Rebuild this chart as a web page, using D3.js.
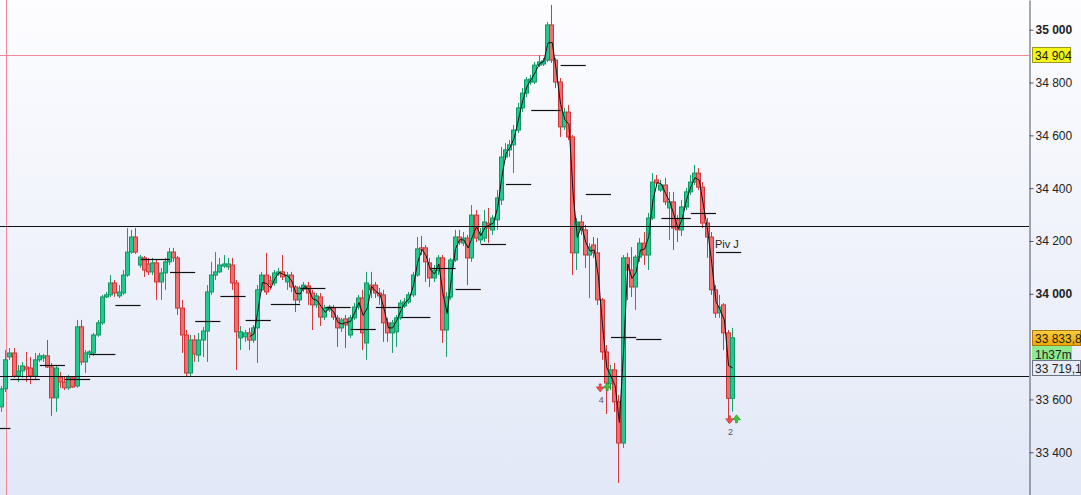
<!DOCTYPE html>
<html>
<head>
<meta charset="utf-8">
<script src="https://cdn.jsdelivr.net/npm/d3@7"></script>
<style>
html, body { margin: 0; padding: 0; background: #fff; }
svg { display: block; font-family: "Liberation Sans", Arial, sans-serif; }
</style>
</head>
<body>
<svg id="chart" width="1081" height="495"></svg>
<script>
// candles, oldest first (index = bar number)
var open = [
  33572,33640,33761,33776,33689,33708,33723,33719,33689,33750,
  33757,33765,33723,33606,33685,33666,33644,33682,33651,33875,
  33742,33772,33776,33844,33890,33988,33996,34041,33992,34003,
  34071,34158,34215,34109,34136,34113,34083,34117,34045,34079,
  34121,34158,34136,33946,33844,33700,33825,33768,33825,33859,
  34007,34071,34083,34105,34102,34109,34041,33833,33837,33852,
  33825,33871,34015,34071,34049,34041,34075,34083,34045,34071,
  34026,33977,34018,34030,34003,33958,33988,33912,33939,33946,
  33908,33871,33905,33844,33909,33950,33984,33814,34033,34033,
  34003,33996,33890,33852,33856,33909,33954,33969,33996,34071,
  34174,34174,34117,34060,34087,34136,33863,33988,34128,34215,
  34192,34211,34136,34298,34204,34211,34268,34242,34280,34355,
  34518,34545,34564,34620,34704,34760,34802,34802,34866,34870,
  34885,35018,34885,34802,34632,34688,34594,34155,34272,34242,
  34147,34185,34155,33977,33780,33659,33712,33591,33435,34136,
  34090,34026,34139,34192,34147,34287,34431,34393,34412,34325,
  34348,34280,34242,34329,34386,34423,34457,34404,34268,34215,
  34015,33928,33958,33852,33604.4
];
var high = [
  33651,33787,33795,33795,33731,33742,33780,33761,33776,33776,
  33772,33825,33738,33727,33704,33685,33693,33689,33901,33901,
  33787,33787,33852,33901,33996,34007,34071,34052,34033,34090,
  34249,34242,34249,34147,34143,34136,34136,34128,34098,34136,
  34174,34174,34143,33977,33863,33844,33844,33852,33875,34033,
  34121,34158,34136,34147,34136,34136,34052,33878,33863,33871,
  33882,34033,34083,34155,34068,34090,34098,34147,34083,34083,
  34033,34030,34045,34045,34015,34003,34003,33958,33958,33958,
  33920,33909,33920,33920,33965,33996,34015,34083,34083,34045,
  34022,34015,33909,33901,33920,33977,33984,34007,34083,34215,
  34219,34185,34136,34109,34147,34147,34007,34136,34242,34242,
  34234,34223,34336,34317,34249,34317,34325,34298,34393,34556,
  34571,34582,34639,34723,34779,34821,34829,34878,34904,34893,
  35029,35094,34893,34817,34704,34715,34601,34287,34298,34261,
  34192,34215,34211,33984,33806,33731,33738,33617,34147,34155,
  34177,34147,34211,34234,34306,34457,34450,34431,34439,34386,
  34386,34298,34355,34401,34450,34488,34476,34423,34287,34234,
  34033,33996,33965,33863,33871
];
var low = [
  33553,33628,33750,33682,33666,33682,33666,33658,33674,33742,
  33742,33719,33538,33553,33644,33636,33636,33644,33644,33731,
  33700,33757,33765,33837,33882,33984,33988,33988,33984,33996,
  34064,34151,34151,34098,34064,34071,34071,33977,33977,34015,
  34109,34121,33920,33776,33685,33689,33742,33742,33761,33742,
  33996,34052,34079,34098,34090,34015,33712,33787,33818,33787,
  33814,33738,34007,33996,34015,34030,34068,34052,34015,34007,
  33931,33965,34007,33958,33863,33946,33878,33901,33931,33901,
  33799,33856,33795,33833,33901,33939,33787,33750,33984,33984,
  33958,33818,33818,33776,33799,33901,33946,33962,33988,34064,
  34147,34045,34026,34045,34071,33814,33761,33977,34121,34185,
  34181,34033,34121,34196,34189,34196,34192,34223,34242,34336,
  34507,34518,34457,34609,34688,34745,34791,34794,34859,34863,
  34878,34874,34779,34594,34620,34582,34071,34090,34223,34098,
  33984,34136,33958,33750,33545,33636,33553,33284,33416,33977,
  33988,33939,34121,34109,34090,34280,34408,34386,34336,34204,
  34166,34196,34219,34317,34374,34412,34393,34249,34136,33996,
  33909,33909,33787,33511,33553
];
var close = [
  33640,33750,33776,33689,33708,33727,33715,33689,33750,33765,
  33765,33723,33606,33719,33666,33644,33685,33647,33875,33742,
  33776,33780,33844,33890,33988,33996,34041,34003,34007,34071,
  34158,34215,34158,34139,34090,34083,34117,34045,34079,34121,
  34158,34136,33946,33844,33700,33825,33772,33825,33859,34007,
  34071,34083,34109,34113,34113,34041,33856,33856,33852,33825,
  33871,34015,34071,34007,34037,34079,34083,34064,34071,34026,
  33977,34022,34033,34003,33958,33992,33912,33946,33950,33912,
  33871,33901,33882,33909,33950,33984,33852,34041,34015,34003,
  33992,33890,33852,33890,33909,33965,33969,33996,34071,34170,
  34166,34121,34060,34090,34136,33863,33988,34128,34215,34196,
  34211,34136,34298,34211,34230,34272,34249,34287,34363,34518,
  34545,34564,34620,34704,34760,34810,34813,34866,34878,34882,
  35018,34885,34802,34632,34688,34594,34155,34272,34242,34147,
  34177,34155,33977,33780,33662,33712,33591,33435,34136,34090,
  34026,34139,34192,34147,34287,34423,34420,34412,34348,34348,
  34249,34242,34329,34386,34423,34457,34404,34268,34215,34015,
  33927,33950,33852,33604.4,33833.8
];

// pivot levels, one per period (bar where the period starts / ends)
var pivotFrom  = [-5, 2, 9, 15, 21, 27, 33, 40, 46, 52, 58, 64, 71, 77, 83, 89, 95, 102, 108, 114, 120, 126, 133, 139, 145, 151, 157, 164, 170];
var pivotTo    = [2, 9, 15, 21, 27, 33, 40, 46, 52, 58, 64, 71, 77, 83, 89, 95, 102, 108, 114, 120, 126, 133, 139, 145, 151, 157, 164, 170, 176];
var pivotLevel = [33492, 33677, 33730, 33677, 33772, 33957, 34132, 34082, 33896, 33991, 33900, 33960, 34021, 33949, 33866,
                  33950, 33911, 34097, 34017, 34188, 34416, 34696, 34865, 34378, 33837, 33828, 34288, 34305, 34158];

var hLevels = [34257, 33689];          // black support / resistance lines
var crossPrice = 34904, crossBar = 1;  // red crosshair
var maStart = 59, maLen = 2;           // moving average on close

var signalBar = [142.9, 173.7];
var signalPrice = [33640, 33519];
var signalText = ["4", "2"];

var tickValues = [35000, 34800, 34600, 34400, 34200, 34000, 33600, 33400];
var boldTicks = [35000, 34000];
var timerText = "1h37m";

var width = 1081, height = 495, axisX = 1029;
var fr = d3.formatLocale({decimal: ",", thousands: " ", grouping: [3], currency: ["", ""]});
var f0 = fr.format(",.0f"), f1 = fr.format(",.1f");

var svg = d3.select("#chart");

var x = d3.scaleLinear().domain([0, close.length - 1]).range([2, 732.8]);
var y = d3.scaleLinear().domain([33238.2, 35112.5]).range([height, 0]);

var defs = svg.append("defs");
var bg = defs.append("linearGradient").attr("id", "bg").attr("x1", 0).attr("y1", 0).attr("x2", 0).attr("y2", 1);
bg.append("stop").attr("offset", "0%").attr("stop-color", "#fdfdff");
bg.append("stop").attr("offset", "100%").attr("stop-color", "#e2e8f7");
var og = defs.append("linearGradient").attr("id", "og").attr("x1", 0).attr("y1", 0).attr("x2", 0).attr("y2", 1);
og.append("stop").attr("offset", "0%").attr("stop-color", "#fbcd40");
og.append("stop").attr("offset", "100%").attr("stop-color", "#eea800");

svg.append("rect").attr("width", width).attr("height", height).attr("fill", "url(#bg)");

// crosshair
svg.append("line")
    .attr("x1", Math.round(x(crossBar)) + 0.5).attr("x2", Math.round(x(crossBar)) + 0.5)
    .attr("y1", 0).attr("y2", height)
    .attr("stroke", "#f0889a").attr("stroke-width", 1);
svg.append("line")
    .attr("x1", 0).attr("x2", axisX)
    .attr("y1", Math.round(y(crossPrice)) + 0.5).attr("y2", Math.round(y(crossPrice)) + 0.5)
    .attr("stroke", "#f0889a").attr("stroke-width", 1);

// candles
var bars = d3.range(close.length);
var g = svg.append("g").attr("class", "candles");
var candle = g.selectAll("g").data(bars).enter().append("g");

function up(i) { return close[i] >= open[i]; }

candle.append("line")
    .attr("x1", function(i) { return Math.round(x(i)) - 0.5; })
    .attr("x2", function(i) { return Math.round(x(i)) - 0.5; })
    .attr("y1", function(i) { return y(high[i]); })
    .attr("y2", function(i) { return y(low[i]); })
    .attr("stroke", function(i) { return up(i) ? "#1a9e6c" : "#d8383c"; })
    .attr("stroke-width", 1);

candle.append("rect")
    .attr("x", function(i) { return Math.round(x(i)) - 2.5; })
    .attr("width", 4)
    .attr("y", function(i) { return y(Math.max(open[i], close[i])); })
    .attr("height", function(i) { return Math.max(1, Math.abs(y(open[i]) - y(close[i]))); })
    .attr("fill", function(i) { return up(i) ? "#22c98e" : "#f26e6e"; })
    .attr("stroke", function(i) { return up(i) ? "#139564" : "#cf3538"; })
    .attr("stroke-width", 1);

// moving average
var ma = d3.range(maStart, close.length).map(function(i) {
  return [i, d3.mean(close.slice(i - maLen + 1, i + 1))];
});
svg.append("path")
    .datum(ma)
    .attr("fill", "none").attr("stroke", "#111").attr("stroke-width", 1)
    .attr("d", d3.line().x(function(d) { return x(d[0]); }).y(function(d) { return y(d[1]); }));

// horizontal levels
svg.selectAll("line.level").data(hLevels).enter().append("line")
    .attr("class", "level")
    .attr("x1", 0).attr("x2", axisX)
    .attr("y1", function(d) { return Math.round(y(d)) + 0.5; })
    .attr("y2", function(d) { return Math.round(y(d)) + 0.5; })
    .attr("stroke", "#111").attr("stroke-width", 1);

// pivot segments
svg.selectAll("line.pivot").data(pivotLevel).enter().append("line")
    .attr("class", "pivot")
    .attr("x1", function(d, k) { return x(pivotFrom[k]); })
    .attr("x2", function(d, k) { return x(pivotTo[k]); })
    .attr("y1", function(d) { return Math.round(y(d)) + 0.5; })
    .attr("y2", function(d) { return Math.round(y(d)) + 0.5; })
    .attr("stroke", "#111").attr("stroke-width", 1.2);

var lastPiv = pivotLevel.length - 1;
svg.append("text")
    .attr("x", x(pivotFrom[lastPiv]) - 1)
    .attr("y", y(pivotLevel[lastPiv]) - 4)
    .attr("font-size", 11).attr("fill", "#222")
    .text("Piv J");

// signal arrows
var sig = svg.selectAll("g.sig").data(signalBar).enter().append("g").attr("class", "sig")
    .attr("transform", function(d, k) { return "translate(" + x(d) + "," + y(signalPrice[k]) + ")"; });
sig.append("path")   // down arrow
    .attr("d", "M-5.5,-4 h3 v-3 h2 v3 h3 l-4,5 z")
    .attr("transform", "translate(-0.5,2)")
    .attr("fill", "#ef4d4d").attr("stroke", "#c83030").attr("stroke-width", 0.6);
sig.append("path")   // up arrow
    .attr("d", "M2,-1 h3 v3 h2 v-3 h3 l-4,-5 z")
    .attr("transform", "translate(-1,0)")
    .attr("fill", "#3cc43c").attr("stroke", "#1f8f1f").attr("stroke-width", 0.6);
sig.append("text")
    .attr("x", -1).attr("y", 14)
    .attr("text-anchor", "middle").attr("font-size", 9).attr("fill", "#555")
    .text(function(d, k) { return signalText[k]; });

// price axis
var axis = svg.append("g")
    .attr("transform", "translate(" + (axisX + 0.5) + ",0)")
    .call(d3.axisRight(y).tickValues(tickValues).tickSize(4).tickSizeOuter(0).tickPadding(2).tickFormat(f0));
axis.select(".domain").attr("stroke", "#4a5560");
axis.selectAll(".tick line").attr("stroke", "#4a5560");
axis.selectAll(".tick text")
    .attr("font-family", "Liberation Sans, Arial, sans-serif")
    .attr("font-size", 12)
    .attr("fill", "#222")
    .attr("font-weight", function(d) { return boldTicks.indexOf(d) >= 0 ? "bold" : "normal"; });

function tag(yc, w, label, fill, stroke) {
  var t = svg.append("g").attr("transform", "translate(" + (axisX + 3) + "," + Math.round(yc) + ")");
  t.append("rect").attr("x", 0.5).attr("y", -7.5).attr("width", w).attr("height", 15)
      .attr("fill", fill).attr("stroke", stroke).attr("stroke-width", 1);
  t.append("text").attr("x", 3).attr("y", 4.5).attr("font-size", 12).attr("fill", "#222").text(label);
}
var lastClose = close[close.length - 1];
var lastMa = ma[ma.length - 1][1];
tag(y(crossPrice), 38, f0(crossPrice), "#f4f418", "#9a9a20");
tag(y(lastClose), 48, f1(lastClose), "url(#og)", "#b07a10");
tag(y(lastClose) + 16, 39, timerText, "#8ee88e", "#8ee88e");
tag(y(lastMa), 48, f1(lastMa), "#e6ecf6", "#6a7485");
</script>
</body>
</html>
